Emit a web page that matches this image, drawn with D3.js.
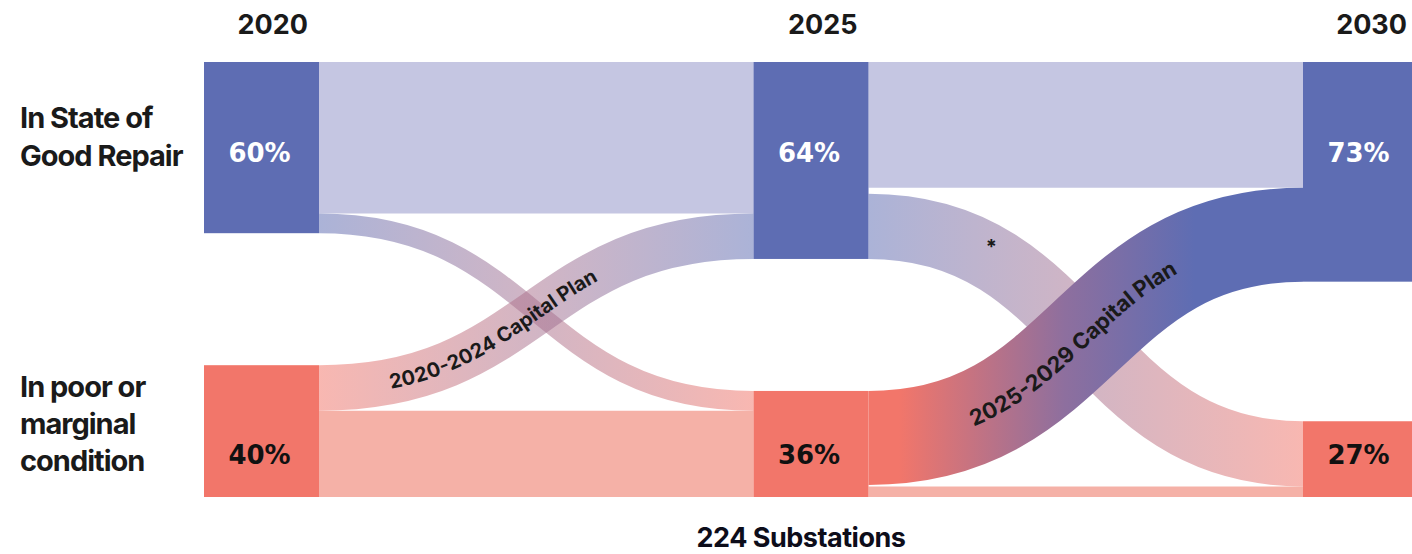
<!DOCTYPE html>
<html>
<head>
<meta charset="utf-8">
<script src="https://cdn.jsdelivr.net/npm/d3@7"></script>
<style>
  html, body { margin: 0; padding: 0; background: #fff; }
  svg { display: block; }
  .lbl { font-family: Inter, "Noto Sans", sans-serif; font-weight: 700; fill: #1a1a1a; }
  .pct { font-family: "DejaVu Sans", sans-serif; font-weight: 700; }
</style>
</head>
<body>
<svg id="chart" width="1412" height="554"></svg>
<script>
// ---- data ----
const years = ['2020', '2025', '2030']
const rowLabels = [['In State of', 'Good Repair'], ['In poor or', 'marginal', 'condition']]
const goodShare = [60, 64, 73]   // % label in good-repair node
const poorShare = [40, 36, 27]   // % label in poor node
const plans = ['2020-2024 Capital Plan', '2025-2029 Capital Plan']
// flows between columns (share of substations, one entry per period)
const goodToGood = [50, 41.5]
const goodToPoor = [6.5, 21.5]
const poorToGood = [15, 31]
const poorToPoor = [28.5, 3.5]
const footer = '224 Substations'

// ---- layout ----
const yTop = 62, yBottom = 497
const nodeW = 115
const colBlue = '#5E6DB3', colRed = '#F2766A'
const lightBlue = '#C5C6E2', lightRed = '#F5B1A7'

const svg = d3.select('#chart')
const defs = svg.append('defs')

const xCol = d3.scalePoint().domain(years).range([204, 1303])
const h = d3.scaleLinear().domain([0, 100]).range([0, 303])

// node sizes = max(in, out)
const nodes = years.map((yr, i) => {
  const gIn = i > 0 ? goodToGood[i - 1] + poorToGood[i - 1] : 0
  const gOut = i < 2 ? goodToGood[i] + goodToPoor[i] : 0
  const pIn = i > 0 ? goodToPoor[i - 1] + poorToPoor[i - 1] : 0
  const pOut = i < 2 ? poorToGood[i] + poorToPoor[i] : 0
  const gv = Math.max(gIn, gOut), pv = Math.max(pIn, pOut)
  return {
    year: yr,
    x: xCol(yr),
    good: { y0: yTop, y1: yTop + h(gv) },
    poor: { y0: yBottom - h(pv), y1: yBottom }
  }
})

// stack two bands inside a node, slack goes between them
function stack(node, a, b) {
  const ha = h(a), hb = h(b)
  return [[node.y0, node.y0 + ha], [node.y1 - hb, node.y1]]
}

const links = []
for (let p = 0; p < 2; p++) {
  const s = nodes[p], t = nodes[p + 1]
  const gOut = stack(s.good, goodToGood[p], goodToPoor[p])
  const pOut = stack(s.poor, poorToGood[p], poorToPoor[p])
  const gIn = stack(t.good, goodToGood[p], poorToGood[p])
  const pIn = stack(t.poor, goodToPoor[p], poorToPoor[p])
  const x0 = s.x + nodeW, x1 = t.x
  links.push({ p, kind: 'gg', x0, x1, a: gOut[0], b: gIn[0], v: goodToGood[p] })
  links.push({ p, kind: 'pp', x0, x1, a: pOut[1], b: pIn[1], v: poorToPoor[p] })
  links.push({ p, kind: 'gp', x0, x1, a: gOut[1], b: pIn[0], v: goodToPoor[p] })
  links.push({ p, kind: 'pg', x0, x1, a: pOut[0], b: gIn[1], v: poorToGood[p] })
}

const linkGen = d3.linkHorizontal()
function linkPath(d) {
  return linkGen({ source: [d.x0, (d.a[0] + d.a[1]) / 2], target: [d.x1, (d.b[0] + d.b[1]) / 2] })
}

function gradient(id, d, stops) {
  const g = defs.append('linearGradient')
    .attr('id', id)
    .attr('gradientUnits', 'userSpaceOnUse')
    .attr('x1', d.x0).attr('x2', d.x1)
    .attr('y1', 0).attr('y2', 0)
  stops.forEach(s => {
    g.append('stop').attr('offset', s[0]).attr('stop-color', s[1])
  })
  return 'url(#' + id + ')'
}

const linkG = svg.append('g')
links.forEach((d, i) => {
  let stroke, opacity = 1
  if (d.kind === 'gg') stroke = lightBlue
  else if (d.kind === 'pp') stroke = lightRed
  else if (d.kind === 'gp') {
    stroke = gradient('lg' + i, d, [[0, colBlue], [1, colRed]])
    opacity = 0.52
  } else {
    if (d.p === 0) {
      stroke = gradient('lg' + i, d, [[0, colRed], [1, colBlue]])
      opacity = 0.52
    } else {
      stroke = gradient('lg' + i, d, [[0.07, colRed], [0.45, '#8E6F9E'], [0.75, colBlue]])
    }
  }
  d.id = 'link' + i
  linkG.append('path')
    .attr('id', d.id)
    .attr('d', linkPath(d))
    .attr('fill', 'none')
    .attr('stroke', stroke)
    .attr('stroke-opacity', opacity)
    .attr('stroke-width', h(d.v))
})

// capital plan labels along the poor->good bands
links.filter(d => d.kind === 'pg').forEach(d => {
  svg.append('text')
    .attr('class', 'lbl')
    .attr('font-size', d.p === 0 ? 20 : 22)
    .attr('dy', '0.36em')
    .append('textPath')
    .attr('href', '#' + d.id)
    .attr('startOffset', d.p === 0 ? '40%' : '47%')
    .attr('text-anchor', 'middle')
    .text(plans[d.p])
})

// asterisk on the 2025 good->poor band
{
  const d = links.find(l => l.p === 1 && l.kind === 'gp')
  const node = document.getElementById(d.id)
  const len = node.getTotalLength()
  let lo = 0, hi = len
  const target = d.x0 + (d.x1 - d.x0) * 0.283
  for (let k = 0; k < 30; k++) {
    const m = (lo + hi) / 2
    if (node.getPointAtLength(m).x < target) lo = m; else hi = m
  }
  const pt = node.getPointAtLength(lo)
  svg.append('text')
    .attr('class', 'lbl')
    .attr('x', pt.x).attr('y', pt.y - 4)
    .attr('text-anchor', 'middle')
    .attr('font-size', 20)
    .text('*')
}

// nodes
const nodeG = svg.append('g')
nodes.forEach((n, i) => {
  nodeG.append('rect')
    .attr('x', n.x).attr('y', n.good.y0)
    .attr('width', nodeW).attr('height', n.good.y1 - n.good.y0)
    .attr('fill', colBlue)
  nodeG.append('rect')
    .attr('x', n.x).attr('y', n.poor.y0)
    .attr('width', nodeW).attr('height', n.poor.y1 - n.poor.y0)
    .attr('fill', colRed)
  nodeG.append('text')
    .attr('class', 'pct')
    .attr('x', n.x + nodeW / 2 - 2).attr('y', 162)
    .attr('text-anchor', 'middle')
    .attr('font-size', 26)
    .attr('fill', '#fff')
    .text(goodShare[i] + '%')
  nodeG.append('text')
    .attr('class', 'pct')
    .attr('x', n.x + nodeW / 2 - 2).attr('y', 464)
    .attr('text-anchor', 'middle')
    .attr('font-size', 26)
    .attr('fill', '#111')
    .text(poorShare[i] + '%')
  svg.append('text')
    .attr('class', 'lbl')
    .attr('x', n.x + nodeW - 11).attr('y', 34)
    .attr('text-anchor', 'end')
    .attr('font-size', 27)
    .text(n.year)
})

// row labels
const rowY = [[128, 166], [397, 434, 471]]
rowLabels.forEach((lines, r) => {
  const t = svg.append('text')
    .attr('class', 'lbl')
    .attr('font-size', 29)
    .attr('letter-spacing', -1)
  lines.forEach((s, j) => {
    t.append('tspan').attr('x', 20).attr('y', rowY[r][j]).text(s)
  })
})

svg.append('text')
  .attr('class', 'lbl')
  .attr('x', 801).attr('y', 547)
  .attr('text-anchor', 'middle')
  .attr('font-size', 27)
  .attr('letter-spacing', -0.5)
  .style('fill', '#0d0d1a')
  .text(footer)
</script>
</body>
</html>
